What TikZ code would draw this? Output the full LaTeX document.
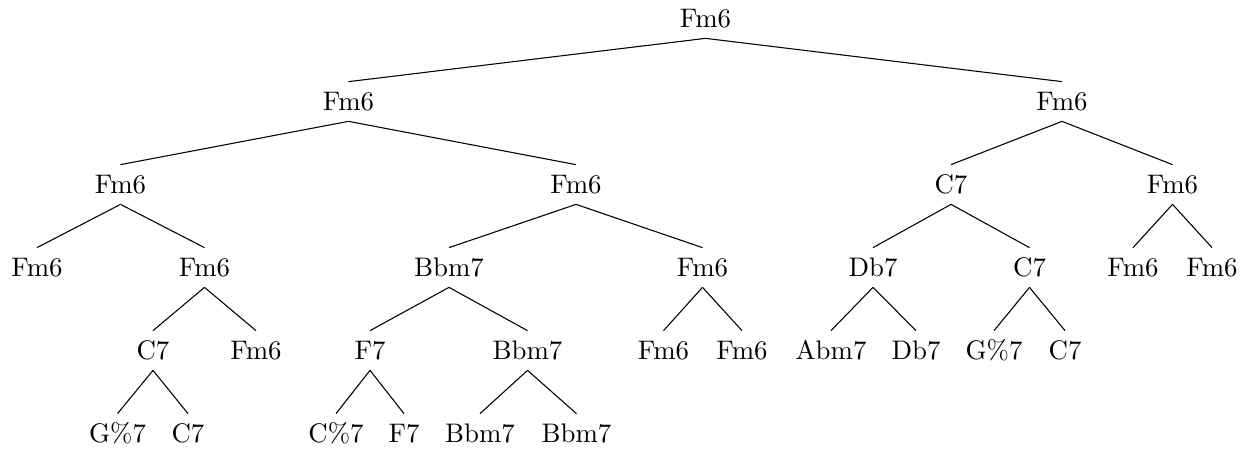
\documentclass[tikz,border=0pt]{standalone}
\usetikzlibrary{positioning}
\tikzset{
    chord/.style={rectangle, inner sep=0pt, minimum height=14.4pt, align=center},
    branch/.style={draw, thin}
}
\begin{document}
\begin{tikzpicture}[x=0.3726pt, y=-0.3726pt, every node/.style={chord}]
	\useasboundingbox (0,0) rectangle (1249,454);
	% level 0 and 1
	\node (r) at (705.5,18.5) {Fm6};
	\node (a) at (348.5,101.5) {Fm6};
	\node (b) at (1062,101.5) {Fm6};
	% level 2
	\node (aa) at (120.5,184.5) {Fm6};
	\node (ab) at (576,184.5) {Fm6};
	\node (ba) at (951,184.5) {C7};
	\node (bb) at (1172.5,184.5) {Fm6};
	% level 3
	\node (aaa) at (37,267.5) {Fm6};
	\node (aab) at (204.5,267.5) {Fm6};
	\node (aba) at (449,267.5) {Bbm7};
	\node (abb) at (702.5,267.5) {Fm6};
	\node (baa) at (873,267.5) {Db7};
	\node (bab) at (1029.5,267.5) {C7};
	\node (bba) at (1133,267.5) {Fm6};
	\node (bbb) at (1212,267.5) {Fm6};
	% level 4
	\node (aaba) at (153,350.5) {C7};
	\node (aabb) at (256,350.5) {Fm6};
	\node (abaa) at (370,350.5) {F7};
	\node (abab) at (527.5,350.5) {Bbm7};
	\node (abba) at (663.5,350.5) {Fm6};
	\node (abbb) at (742,350.5) {Fm6};
	\node (baaa) at (831,350.5) {Abm7};
	\node (baab) at (916,350.5) {Db7};
	\node (baba) at (994,350.5) {G\%7};
	\node (babb) at (1065,350.5) {C7};
	% level 5
	\node (aabaa) at (117.5,433.5) {G\%7};
	\node (aabab) at (188,433.5) {C7};
	\node (abaaa) at (336,433.5) {C\%7};
	\node (abaab) at (404,433.5) {F7};
	\node (ababa) at (480,433.5) {Bbm7};
	\node (ababb) at (576.5,433.5) {Bbm7};
	% edges
	\foreach \p/\c in {r/a, r/b, a/aa, a/ab, b/ba, b/bb,
		aa/aaa, aa/aab, ab/aba, ab/abb, ba/baa, ba/bab, bb/bba, bb/bbb,
		aab/aaba, aab/aabb, aba/abaa, aba/abab, abb/abba, abb/abbb,
		baa/baaa, baa/baab, bab/baba, bab/babb,
		aaba/aabaa, aaba/aabab, abaa/abaaa, abaa/abaab, abab/ababa, abab/ababb}
		\draw[branch] (\p.south) -- (\c.north);
\end{tikzpicture}
\end{document}
